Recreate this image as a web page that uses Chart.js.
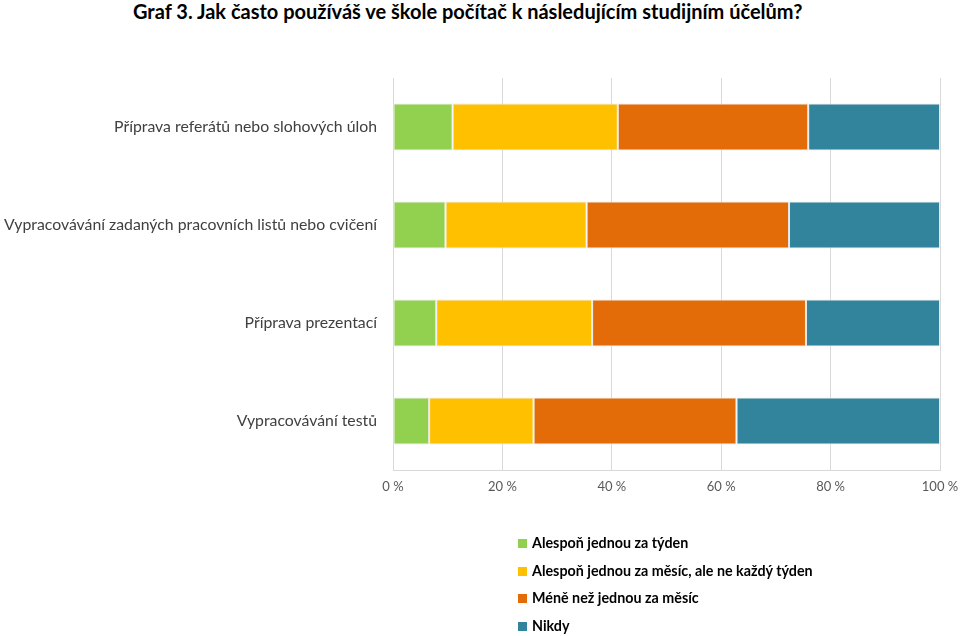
<!DOCTYPE html>
<html>
<head>
<meta charset="utf-8">
<script src="https://cdn.jsdelivr.net/npm/chart.js"></script>
<style>
  body { margin: 0; background: #fff; width: 960px; height: 636px; overflow: hidden; position: relative; font-family: Lato, "Open Sans", sans-serif; }
  #title { position: absolute; left: 133px; top: -1px; font-size: 20px; font-weight: bold; color: #000; white-space: nowrap; }
  #wrap { position: absolute; left: 0; top: 0; width: 960px; height: 636px; }
  #legend { position: absolute; left: 518px; top: 532px; font-size: 14.3px; font-weight: bold; color: #000; }
  #legend div { height: 27.5px; line-height: 22px; white-space: nowrap; }
  #legend span { display: inline-block; width: 9px; height: 9px; margin-right: 5px; vertical-align: 0px; }
</style>
</head>
<body>
<div id="title">Graf 3. Jak často používáš ve škole počítač k následujícím studijním účelům?</div>
<div id="wrap"><canvas id="chart" width="960" height="636"></canvas></div>
<div id="legend"></div>
<script>
// kategorie (odshora dolů)
const categories = [
  "Příprava referátů nebo slohových úloh",
  "Vypracovávání zadaných pracovních listů nebo cvičení",
  "Příprava prezentací",
  "Vypracovávání testů"
];

// odpovědi v %
const weekly  = [10.9, 9.6, 7.9, 6.6];
const monthly = [30.2, 25.8, 28.5, 19.1];
const rarely  = [34.8, 37.0, 39.1, 37.1];
const never   = [24.1, 27.6, 24.5, 37.2];

const seriesNames = [
  "Alespoň jednou za týden",
  "Alespoň jednou za měsíc, ale ne každý týden",
  "Méně než jednou za měsíc",
  "Nikdy"
];
const colors = ["#92D050", "#FFC000", "#E36C09", "#31849B"];
const xTicks = [0, 20, 40, 60, 80, 100];

const seriesData = [weekly, monthly, rarely, never];

const datasets = seriesData.map((d, i) => ({
  label: seriesNames[i],
  data: d,
  backgroundColor: colors[i],
  borderColor: "#e8e8e8",
  borderWidth: 1,
  borderSkipped: false,
  barPercentage: 0.48,
  categoryPercentage: 1.0
}));

// legenda
document.getElementById("legend").innerHTML = seriesNames
  .map((n, i) => `<div><span style="background:${colors[i]}"></span>${n}</div>`)
  .join("");

new Chart(document.getElementById("chart"), {
  type: "bar",
  data: { labels: categories, datasets: datasets },
  options: {
    indexAxis: "y",
    responsive: false,
    animation: false,
    layout: { padding: { top: 78, right: 20, bottom: 136, left: 0 } },
    plugins: { legend: { display: false }, tooltip: { enabled: false } },
    scales: {
      x: {
        stacked: true,
        min: 0,
        max: 100,
        afterBuildTicks: (scale) => { scale.ticks = xTicks.map(v => ({ value: v })); },
        afterFit: (scale) => { scale.height = 30; scale.paddingRight = 0; scale.paddingLeft = 0; },
        grid: { color: "#d9d9d9", drawTicks: false },
        border: { color: "#d9d9d9" },
        ticks: {
          padding: 9,
          color: "#595959",
          font: { family: "Lato", size: 13 },
          callback: (v) => v + " %"
        }
      },
      y: {
        stacked: true,
        afterFit: (scale) => { scale.width = 393; },
        grid: { display: false, drawTicks: false },
        border: { color: "#d9d9d9" },
        ticks: {
          padding: 16,
          color: "#404040",
          font: { family: "Lato", size: 15.8 }
        }
      }
    }
  }
});
</script>
</body>
</html>
